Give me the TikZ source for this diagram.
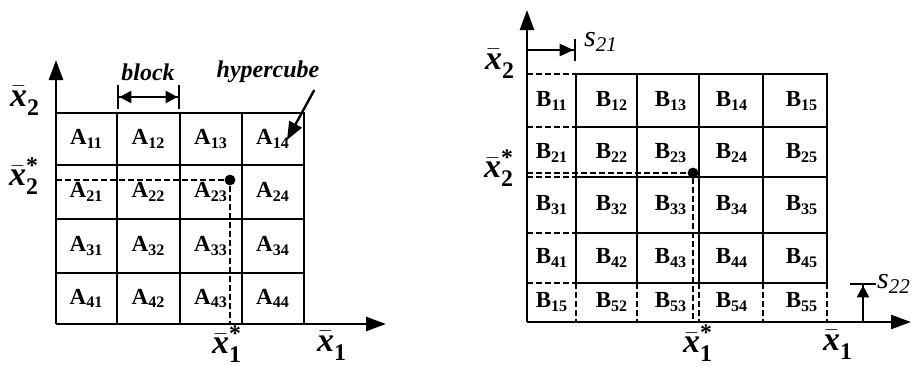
\documentclass[tikz,border=0pt]{standalone}
\usepackage{amsmath}
\usepackage{fontspec}
\setmainfont{Liberation Serif}
\usetikzlibrary{arrows.meta}

\newcommand{\xbar}[2]{$\bar{\text{\bfseries\itshape x}}_{\text{\bfseries #1}}^{\text{\bfseries #2}}$}

\begin{document}
\begin{tikzpicture}[x=0.5pt, y=-0.5pt, line width=1pt,
  >={Triangle[length=10pt, width=7pt]},
  cell/.style={font=\fontsize{11.5}{13}\selectfont\bfseries, inner sep=0pt},
  axlab/.style={font=\fontsize{17}{19}\selectfont, inner sep=0pt},
  shiftlab/.style={font=\fontsize{15}{17}\selectfont\itshape, inner sep=0pt},
  tag/.style={font=\fontsize{12}{14}\selectfont\bfseries\itshape, inner sep=0pt},
  guide/.style={dash pattern=on 3pt off 1.5pt, line width=0.8pt},
  cutline/.style={dash pattern=on 3pt off 1.5pt, line width=0.9pt},
  axis/.style={->, line width=1.3pt}]

\useasboundingbox (0,0) rectangle (912,365);

% left: grid 56..304 x 113..324 ; right: grid 576..827 x 74..283, shifted by s21, s22

%% ── left: blocks of the hypercube ────────────────────────────────
\draw (56,113) -- (304,113) -- (304,324);
\foreach \x in {117,180,242} \draw (\x,113) -- (\x,324);
\foreach \y in {165,219,273} \draw (56,\y) -- (304,\y);

\foreach \y [count=\i] in {139,192,246,298.5}
  \foreach \x [count=\j] in {86.5,148.5,211,273}
    \node[cell] (A\i\j) at (\x,\y) {A\textsubscript{\i\j}};

%% ── left: axes ───────────────────────────────────────────────────
\coordinate (oA) at (56,324);
\coordinate (yA) at (56,60);
\coordinate (xA) at (386,324);
\draw[axis] (oA) -- (yA);
\draw[axis] (oA) -- (xA);

%% ── left: optimum point ──────────────────────────────────────────
\coordinate (dotA) at (230,180);
\draw[guide] (56,180) -- (dotA) -- (230,324);
\fill (dotA) circle (2.7pt);

\node[axlab] (x2A)  at (25,101) {\xbar{2}{}};
\node[axlab] (x2sA) at (24,176) {\xbar{2}{*}};
\node[axlab] (x1sA) at (227,344) {\xbar{1}{*}};
\node[axlab] (x1A)  at (332,346) {\xbar{1}{}};

%% ── left: block and hypercube labels ─────────────────────────────
\node[tag] (blk) at (148,72) {block};
\coordinate (blkL) at (117,97);
\coordinate (blkR) at (180,97);
\draw[line width=1.2pt, {Bar[width=12pt]Triangle[length=6pt, width=6pt]}-{Triangle[length=6pt, width=6pt]Bar[width=12pt]}] (blkL) -- (blkR);

\node[tag] (hyp) at (268,72) {hypercube};
\coordinate (hypTip) at (287,140);
\draw[line width=1.2pt, -{Triangle[length=9pt, width=7pt]}] ([xshift=-3pt, yshift=-3pt]hyp.south east) -- (hypTip);

%% ── right: shifted grid (solid) ──────────────────────────────────
\draw (576,74) rectangle (827,283);
\foreach \x in {637,699,763} \draw (\x,74) -- (\x,283);
\foreach \y in {127,177,233} \draw (576,\y) -- (827,\y);

%% ── right: cut-off column and row (dashed) ───────────────────────
\foreach \y in {74,127,177,233,283} \draw[cutline] (527,\y) -- (576,\y);
\foreach \x in {576,637,699,763,827} \draw[cutline] (\x,283) -- (\x,322);

\foreach \y [count=\i] in {101,153,205,258}
  \foreach \x [count=\j] in {552,612,671,732,802}
    \node[cell] (B\i\j) at (\x,\y) {B\textsubscript{\i\j}};
\foreach \x/\t [count=\j] in {552/15,612/52,671/53,732/54,802/55}
  \node[cell] (B5\j) at (\x,302) {B\textsubscript{\t}};

%% ── right: axes ──────────────────────────────────────────────────
\coordinate (oB) at (527,322);
\coordinate (yB) at (527,10);
\coordinate (xB) at (911,322);
\draw[axis] (oB) -- (yB);
\draw[axis] (oB) -- (xB);

%% ── right: optimum point ─────────────────────────────────────────
\coordinate (dotB) at (693,173);
\draw[guide] (527,173) -- (dotB) -- (693,322);
\fill (dotB) circle (2.7pt);

\node[axlab] (x2B)  at (500,64) {\xbar{2}{}};
\node[axlab] (x2sB) at (499,168) {\xbar{2}{*}};
\node[axlab] (x1sB) at (698,343) {\xbar{1}{*}};
\node[axlab] (x1B)  at (838,345) {\xbar{1}{}};

%% ── right: shifts s21, s22 ───────────────────────────────────────
\coordinate (s21a) at (527,50);
\coordinate (s21b) at (576,50);
\draw[line width=1.2pt, -{Triangle[length=7pt, width=6pt]Bar[width=11pt]}] (s21a) -- (s21b);
\node[shiftlab] (s21) at (601,42) {s\textsubscript{21}};

\coordinate (s22a) at (863,322);
\coordinate (s22b) at (863,283);
\draw[line width=1.2pt, -{Triangle[length=6pt, width=6pt]Bar[width=13pt]}] (s22a) -- (s22b);
\node[shiftlab] (s22) at (894,284) {s\textsubscript{22}};

\end{tikzpicture}
\end{document}
